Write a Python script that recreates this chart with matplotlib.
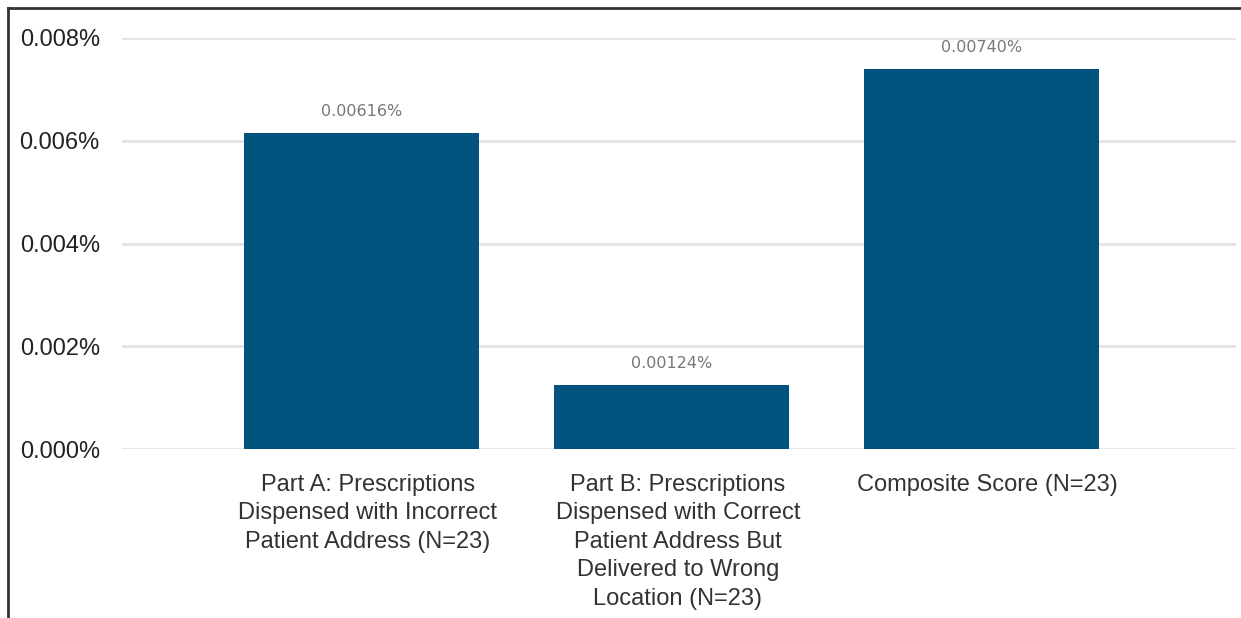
import matplotlib.pyplot as plt
from matplotlib.lines import Line2D
from matplotlib.transforms import ScaledTranslation

categories = [
    "Part A: Prescriptions\nDispensed with Incorrect\nPatient Address (N=23)",
    "Part B: Prescriptions\nDispensed with Correct\nPatient Address But\nDelivered to Wrong\nLocation (N=23)",
    "Composite Score (N=23)",
]
values = [0.00616, 0.00124, 0.00740]
value_labels = ["0.00616%", "0.00124%", "0.00740%"]
yticks = [0.000, 0.002, 0.004, 0.006, 0.008]
ytick_labels = ["0.000%", "0.002%", "0.004%", "0.006%", "0.008%"]

plt.rcParams['font.family'] = ['Liberation Sans', 'DejaVu Sans']

fig = plt.figure(figsize=(12.41, 6.18), dpi=100)
ax = fig.add_axes([122 / 1241, 1 - 449 / 618, (1236 - 122) / 1241, (449 - 38) / 618])

x = range(len(categories))
bars = ax.bar(x, values, width=0.758, color="#02547f", zorder=3)

for b, lab in zip(bars, value_labels):
    ax.annotate(lab, (b.get_x() + b.get_width() / 2, b.get_height()),
                xytext=(0, 10), textcoords="offset points",
                ha="center", va="bottom", fontsize=11.5, color="#777777",
                family=["DejaVu Sans Condensed", "DejaVu Sans"])

ax.set_xlim(-0.774, 2.82)
ax.set_ylim(0, 0.008)
ax.set_yticks(yticks)
ax.set_yticklabels(ytick_labels, fontsize=17, color="#222222")
ax.set_xticks(list(x))
ax.set_xticklabels(categories, fontsize=17, color="#333333", linespacing=1.38, va="top")
ax.tick_params(axis="y", length=0, pad=16)
ax.tick_params(axis="x", length=0, pad=18)
# category labels sit a little right of the bar centre
shift = ScaledTranslation(6 / 100, 0, fig.dpi_scale_trans)
for t in ax.get_xticklabels():
    t.set_transform(t.get_transform() + shift)
ax.yaxis.grid(True, color="#e3e3e3", linewidth=2, zorder=0)
ax.set_axisbelow(True)
for s in ax.spines.values():
    s.set_visible(False)

# outer frame (left and top only)
fig.add_artist(Line2D([8 / 1241, 8 / 1241], [0, 1 - 8 / 618], color="#333333", linewidth=2))
fig.add_artist(Line2D([8 / 1241, 1], [1 - 8 / 618, 1 - 8 / 618], color="#333333", linewidth=2))

fig.savefig("out.png", dpi=100)
